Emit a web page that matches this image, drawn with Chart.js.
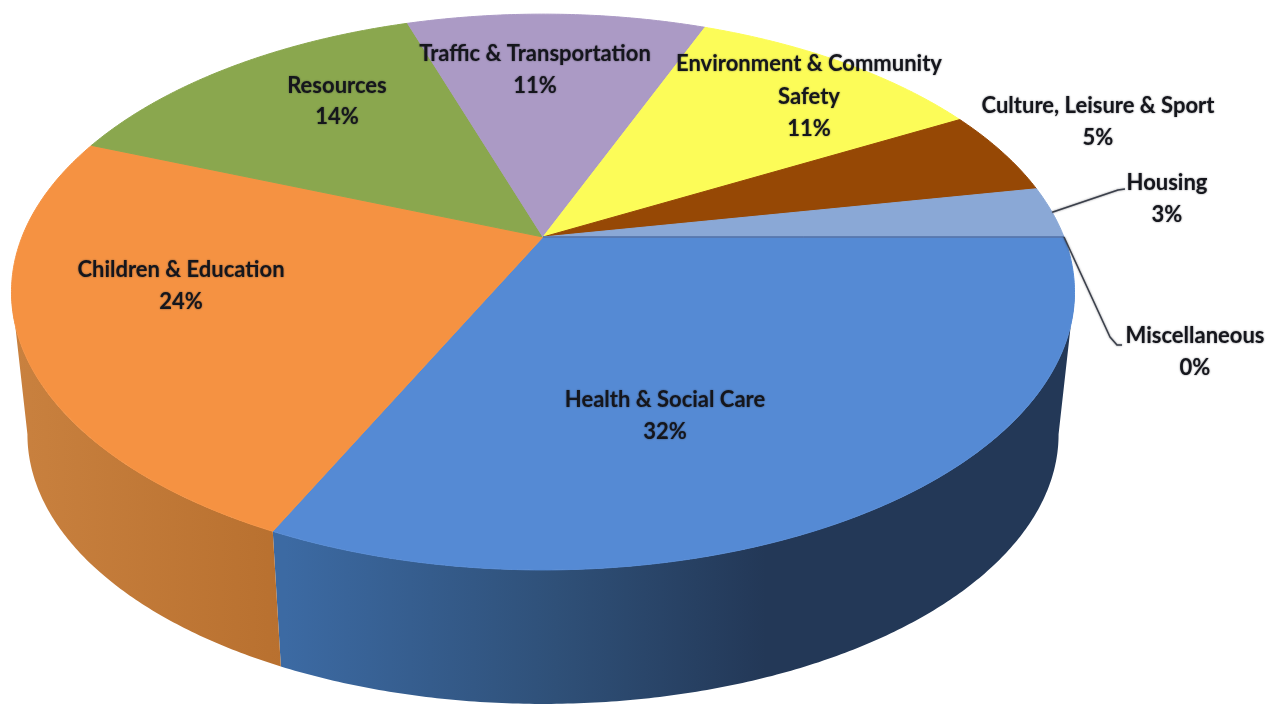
<!DOCTYPE html>
<html>
<head>
<meta charset="utf-8">
<title>Share by category</title>
<script src="https://cdn.jsdelivr.net/npm/chart.js@4/dist/chart.umd.min.js"></script>
<style>
  html, body { margin: 0; padding: 0; background: #ffffff; }
  #stage { width: 1275px; height: 704px; }
  canvas { display: block; }
</style>
</head>
<body>
<div id="stage"><canvas id="pie" width="1275" height="704"></canvas></div>
<script>
// Chart data
const categories = ['Health & Social Care', 'Children & Education', 'Resources', 'Traffic & Transportation',
  'Environment & Community Safety', 'Culture, Leisure & Sport', 'Housing', 'Miscellaneous'];
const shares = [32, 24, 14, 11, 11, 5, 3, 0];
const faceColors = ['#558ad4', '#f59242', '#8aa74e', '#ab9ac5', '#fcfc58', '#964805', '#8aa8d6', '#4f6ea6'];

// Each entry: label lines, centre x, middle y of every line, and an optional leader path.
const callouts = [
  { lines: ['Health & Social Care', '32%'], x: 665, y: [400, 432] },
  { lines: ['Children & Education', '24%'], x: 181, y: [270, 302] },
  { lines: ['Resources', '14%'], x: 337, y: [86, 117] },
  { lines: ['Traffic & Transportation', '11%'], x: 535, y: [54, 86] },
  { lines: ['Environment & Community', 'Safety', '11%'], x: 809, y: [64, 97, 129] },
  { lines: ['Culture, Leisure & Sport', '5%'], x: 1098, y: [106, 138] },
  { lines: ['Housing', '3%'], x: 1167, y: [183, 215], leader: [[1118, 190], [1125, 189]] },
  { lines: ['Miscellaneous', '0%'], x: 1195, y: [336, 368], leader: [[1110, 337], [1117, 345], [1122, 345]] }
];

// Horizontal shading of the visible side wall, per category that reaches the front.
const wallShades = {
  0: { from: 285, to: 1060, stops: [[0, '#3c6aa3'], [0.35, '#2f5078'], [0.62, '#233857'], [1, '#233857']] },
  1: { from: 13, to: 285, stops: [[0, '#c9813f'], [1, '#b8702f']] }
};

// Perspective of the disc: a unit circle is mapped to the screen through a homography.
const view = { cx: 543, apexY: 237, rx: 521, ry: 267, tilt: -0.198, floorScale: 0.97, floorApexY: 381 };

function project(angle, floor) {
  const u = Math.cos(angle), v = Math.sin(angle);
  const w = 1 + view.tilt * v;
  const s = floor ? view.floorScale : 1;
  const y0 = floor ? view.floorApexY : view.apexY;
  return [view.cx + s * view.rx * u / w, y0 + s * view.ry * v / w];
}

function traceRim(ctx, a0, a1, floor, moveFirst) {
  const steps = Math.max(1, Math.ceil(Math.abs(a1 - a0) / (Math.PI / 360)));
  for (let i = 0; i <= steps; i++) {
    const p = project(a0 + (a1 - a0) * i / steps, floor);
    if (i === 0 && moveFirst) ctx.moveTo(p[0], p[1]); else ctx.lineTo(p[0], p[1]);
  }
}

const perspectivePie = {
  id: 'perspectivePie',
  beforeDatasetDraw(chart, args) {
    const ctx = chart.ctx;
    const arcs = args.meta.data;
    const edge = Math.asin(-view.tilt);

    // Side wall, visible between the two silhouette angles
    arcs.forEach((arc, i) => {
      const a0 = Math.max(arc.startAngle, edge);
      const a1 = Math.min(arc.endAngle, Math.PI - edge);
      if (a1 <= a0) return;
      const shade = wallShades[i];
      const grad = ctx.createLinearGradient(shade.from, 0, shade.to, 0);
      shade.stops.forEach(s => grad.addColorStop(s[0], s[1]));
      ctx.beginPath();
      traceRim(ctx, a0, a1, false, true);
      traceRim(ctx, a1, a0, true, false);
      ctx.closePath();
      ctx.fillStyle = grad;
      ctx.fill();
    });

    // Top face
    arcs.forEach(arc => {
      ctx.beginPath();
      ctx.moveTo(view.cx, view.apexY);
      traceRim(ctx, arc.startAngle, arc.endAngle, false, false);
      ctx.closePath();
      ctx.fillStyle = arc.options.backgroundColor;
      ctx.strokeStyle = arc.options.borderColor;
      ctx.lineWidth = arc.options.borderWidth;
      ctx.lineJoin = 'round';
      ctx.fill();
      ctx.stroke();
    });
    return false;
  },
  afterDraw(chart) {
    const ctx = chart.ctx;
    const arcs = chart.getDatasetMeta(0).data;
    ctx.save();
    callouts.forEach((c, i) => {
      if (c.leader) {
        const mid = (arcs[i].startAngle + arcs[i].endAngle) / 2;
        const start = project(mid, false);
        ctx.beginPath();
        ctx.moveTo(start[0], start[1]);
        c.leader.forEach(p => ctx.lineTo(p[0], p[1]));
        ctx.strokeStyle = '#3a3f4a';
        ctx.lineWidth = 1.5;
        ctx.stroke();
      }
      ctx.font = 'bold 22px Lato, "Open Sans", sans-serif';
      ctx.textAlign = 'center';
      ctx.textBaseline = 'middle';
      ctx.fillStyle = '#15161c';
      ctx.shadowColor = 'rgba(20,20,30,0.55)';
      ctx.shadowBlur = 2;
      c.lines.forEach((line, k) => ctx.fillText(line, c.x, c.y[k]));
    });
    ctx.restore();
  }
};

new Chart(document.getElementById('pie'), {
  type: 'pie',
  data: {
    labels: categories,
    datasets: [{
      data: shares,
      backgroundColor: faceColors,
      borderColor: faceColors,
      borderWidth: 1
    }]
  },
  options: {
    responsive: false,
    animation: false,
    rotation: 90,
    events: [],
    plugins: { legend: { display: false }, tooltip: { enabled: false } }
  },
  plugins: [perspectivePie]
});
</script>
</body>
</html>
